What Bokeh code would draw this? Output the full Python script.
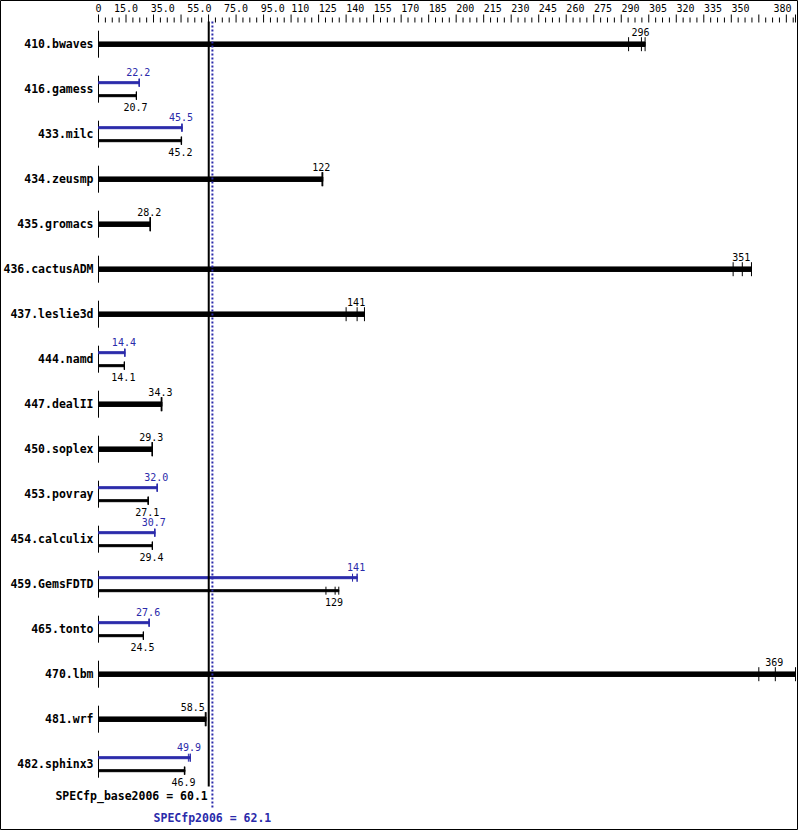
from bokeh.plotting import figure
from bokeh.models import Range1d, ColumnDataSource
from bokeh.core.properties import value
from bokeh.embed import file_html
from bokeh.resources import INLINE

# ---------------- data ----------------
benchmarks = ["410.bwaves", "416.gamess", "433.milc", "434.zeusmp", "435.gromacs",
              "436.cactusADM", "437.leslie3d", "444.namd", "447.dealII", "450.soplex",
              "453.povray", "454.calculix", "459.GemsFDTD", "465.tonto", "470.lbm",
              "481.wrf", "482.sphinx3"]
base_scores = [296, 20.7, 45.2, 122, 28.2, 351, 141, 14.1, 34.3, 29.3,
               27.1, 29.4, 129, 24.5, 369, 58.5, 46.9]
peak_scores = [None, 22.2, 45.5, None, None, None, None, 14.4, None, None,
               32.0, 30.7, 141, 27.6, None, None, 49.9]
base_runs = [[289, 296, 298], [20.6, 20.7, 20.7], [45.1, 45.2, 45.3], [121.9, 122, 122.3],
             [28.1, 28.2, 28.3], [346, 351, 356], [135, 141, 145], [14.1, 14.1, 14.1],
             [34.2, 34.3, 34.6], [29.2, 29.3, 29.4], [27.0, 27.1, 27.2], [29.3, 29.4, 29.4],
             [124, 129, 131], [24.4, 24.5, 24.5], [360, 369, 380], [58.2, 58.5, 58.6],
             [46.8, 46.9, 47.1]]
peak_runs = [None, [22.1, 22.2, 22.3], [45.4, 45.5, 45.6], None, None, None, None,
             [14.3, 14.4, 14.4], None, None, [31.9, 32.0, 32.1], [30.6, 30.7, 30.8],
             [138.5, 141, 141], [27.5, 27.6, 27.7], None, None, [49.0, 49.9, 50.1]]
base_mean = 60.1
peak_mean = 62.1
axis_max = 380
tick_label_values = [0, 15, 35, 55, 75, 95, 110, 125, 140, 155, 170, 185, 200, 215,
                     230, 245, 260, 275, 290, 305, 320, 335, 350, 380]
tick_label_texts = ["0", "15.0", "35.0", "55.0", "75.0", "95.0", "110", "125", "140",
                    "155", "170", "185", "200", "215", "230", "245", "260", "275", "290",
                    "305", "320", "335", "350", "380"]
major_step = 15
minor_div = 4

# ---------------- layout ----------------
W, H = 798, 830
X0_PX = 98          # pixel of value 0
XMAX_PX = 795       # pixel of axis_max
s = (XMAX_PX - X0_PX) / axis_max
x_start = -X0_PX / s
x_end = x_start + W / s
ROW0, ROW_STEP = 43.7, 45
CHAR_PX = 6.0

BLUE = "#2a2aaa"
FONT = value("DejaVu Sans Mono")

def fmt(v):
    return "%d" % round(v) if v >= 100 else "%.1f" % v

p = figure(width=W, height=H, x_range=Range1d(x_start, x_end), y_range=Range1d(H, 0),
           output_backend="svg", toolbar_location=None, min_border=0,
           x_axis_location=None, y_axis_location=None)
p.grid.visible = False
p.outline_line_color = "black"
p.outline_line_width = 1
p.background_fill_color = "white"
p.border_fill_color = "white"

# ---- top scale ticks ----
majors = [i * major_step for i in range(int(axis_max // major_step) + 1)] + [axis_max]
minors = []
for m in majors[:-1]:
    for k in range(1, minor_div):
        v = m + k * major_step / minor_div
        if v < axis_max:
            minors.append(v)
p.segment(x0=majors, x1=majors, y0=[14] * len(majors), y1=[22] * len(majors),
          line_color="black", line_width=1)
p.segment(x0=minors, x1=minors, y0=[17] * len(minors), y1=[22] * len(minors),
          line_color="black", line_width=1)
p.text(x=tick_label_values[:-1], y=[7.5] * (len(tick_label_values) - 1),
       text=tick_label_texts[:-1], text_font=FONT, text_font_size="10px",
       text_align="center", text_baseline="middle", text_color="black")
p.text(x=[tick_label_values[-1]], y=[7.5], text=[tick_label_texts[-1]], text_font=FONT,
       text_font_size="10px", text_align="right", text_baseline="middle",
       text_color="black", x_offset=-4)

# ---- rows ----
yc = [ROW0 + ROW_STEP * i for i in range(len(benchmarks))]

# benchmark names
p.text(x=[0] * len(benchmarks), y=yc, text=benchmarks, text_font=FONT,
       text_font_size="11.5px", text_font_style="bold", text_align="right",
       text_baseline="middle", text_color="black", x_offset=-5)
# left stubs
p.segment(x0=[0] * len(yc), x1=[0] * len(yc), y0=[y - 13.5 for y in yc],
          y1=[y + 13.5 for y in yc], line_color="black", line_width=1)

thick = dict(y=[], right=[])
thin_b = dict(y=[], right=[])
thin_p = dict(y=[], right=[])
labs = dict(x=[], y=[], text=[], align=[], xoff=[], color=[])
tk = dict(x=[], y0=[], y1=[], c=[])

def add_label(v, y, color):
    t = fmt(v)
    half = len(t) * CHAR_PX / 2
    if abs((v - base_mean) * s) < half + 2:
        labs["x"].append(base_mean); labs["align"].append("right"); labs["xoff"].append(-4)
    else:
        labs["x"].append(v); labs["align"].append("center"); labs["xoff"].append(-1)
    labs["y"].append(y); labs["text"].append(t); labs["color"].append(color)

for i, name in enumerate(benchmarks):
    y = yc[i]
    if peak_scores[i] is None:
        thick["y"].append(y); thick["right"].append(max(base_runs[i]))
        add_label(base_scores[i], y - 12.5, "black")
        for r in base_runs[i]:
            tk["x"].append(r); tk["y0"].append(y - 7); tk["y1"].append(y + 7); tk["c"].append("black")
    else:
        yp, yb = y - 6.5, y + 6.5
        thin_p["y"].append(yp); thin_p["right"].append(max(peak_runs[i]))
        add_label(peak_scores[i], y - 17, BLUE)
        thin_b["y"].append(yb); thin_b["right"].append(max(base_runs[i]))
        add_label(base_scores[i], y + 17.5, "black")
        for r in peak_runs[i]:
            tk["x"].append(r); tk["y0"].append(yp - 4); tk["y1"].append(yp + 4); tk["c"].append(BLUE)
        for r in base_runs[i]:
            tk["x"].append(r); tk["y0"].append(yb - 4); tk["y1"].append(yb + 4); tk["c"].append("black")

p.hbar(y=thick["y"], left=0, right=thick["right"], height=4.5, color="black")
p.hbar(y=thin_p["y"], left=0, right=thin_p["right"], height=2, color=BLUE)
p.hbar(y=thin_b["y"], left=0, right=thin_b["right"], height=2, color="black")
p.segment(x0="x", x1="x", y0="y0", y1="y1", line_color="c", line_width=1,
          source=ColumnDataSource(tk))

p.text(x="x", y="y", text="text", text_align="align", x_offset="xoff", text_color="color",
       text_font=FONT, text_font_size="10px", text_baseline="middle",
       source=ColumnDataSource(labs))

# ---- mean lines ----
p.segment(x0=[base_mean], x1=[base_mean], y0=[21], y1=[786], line_color="black", line_width=2)
p.segment(x0=[peak_mean], x1=[peak_mean], y0=[21], y1=[809], line_color=BLUE,
          line_width=2, line_dash="2 2")
p.text(x=[base_mean], y=[795], text=["SPECfp_base2006 = %.1f" % base_mean], text_font=FONT,
       text_font_size="11.5px", text_font_style="bold", text_align="right",
       text_baseline="middle", text_color="black", x_offset=-1)
p.text(x=[peak_mean], y=[817], text=["SPECfp2006 = %.1f" % peak_mean], text_font=FONT,
       text_font_size="11.5px", text_font_style="bold", text_align="center",
       text_baseline="middle", text_color=BLUE)

html = file_html(p, INLINE)
html = html.replace("</head>", "<style>html,body{margin:0;padding:0;}</style></head>", 1)
open("out.html", "w").write(html)
